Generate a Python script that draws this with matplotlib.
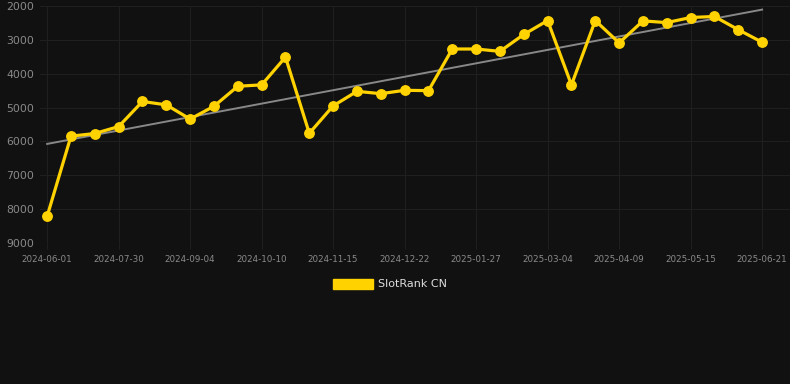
import numpy as np
import matplotlib
matplotlib.use("Agg")
import matplotlib.pyplot as plt
from matplotlib.patches import Patch

# --------------------------
# Data
# --------------------------
tick_labels = ["2024-06-01", "2024-07-30", "2024-09-04", "2024-10-10", "2024-11-15",
               "2024-12-22", "2025-01-27", "2025-03-04", "2025-04-09", "2025-05-15",
               "2025-06-21"]
rank = [8210, 5845, 5766, 5560, 4820, 4920, 5340, 4960, 4370, 4330,
        3510, 5760, 4950, 4520, 4590, 4490, 4500, 3270, 3270, 3340,
        2840, 2430, 4330, 2430, 3090, 2440, 2490, 2340, 2310, 2700,
        3070]
series_name = "SlotRank CN"

bg = "#111111"
gold = "#FFD200"

x = np.arange(len(rank))
trend = np.polyval(np.polyfit(x, rank, 1), x)

fig = plt.figure(figsize=(7.9, 3.84), dpi=100, facecolor=bg)
ax = fig.add_axes([40 / 790, 1 - 243 / 384, 750 / 790, 237 / 384], facecolor=bg)

ax.plot(x, trend, color="#888888", linewidth=1.4, zorder=2)
ax.plot(x, rank, color=gold, linewidth=2.3, marker="o", markersize=6.8,
        zorder=3, clip_on=False)

ax.set_ylim(9000, 2000)
ax.set_yticks(range(2000, 9001, 1000))
ax.set_xlim(-0.3, 31.17)
ax.set_xticks(x[::3])
ax.set_xticklabels(tick_labels)

ax.grid(True, color="#1f1f1f", linewidth=0.8)
ax.set_axisbelow(True)
for s in ax.spines.values():
    s.set_visible(False)
ax.tick_params(axis="y", length=0, pad=4, labelsize=7.8, labelcolor="#8a8a8a")
ax.tick_params(axis="x", length=4, color="#1f1f1f", pad=4.5, labelsize=6.3,
               labelcolor="#8a8a8a")

leg = fig.legend(handles=[Patch(facecolor=gold, edgecolor=gold, label=series_name)],
                 loc="center", bbox_to_anchor=(390 / 790, 1 - 284 / 384),
                 frameon=False, fontsize=8, handlelength=3.6, handleheight=1.0,
                 handletextpad=0.5)
for t in leg.get_texts():
    t.set_color("#dddddd")

fig.savefig("out.png", dpi=100, facecolor=bg)
